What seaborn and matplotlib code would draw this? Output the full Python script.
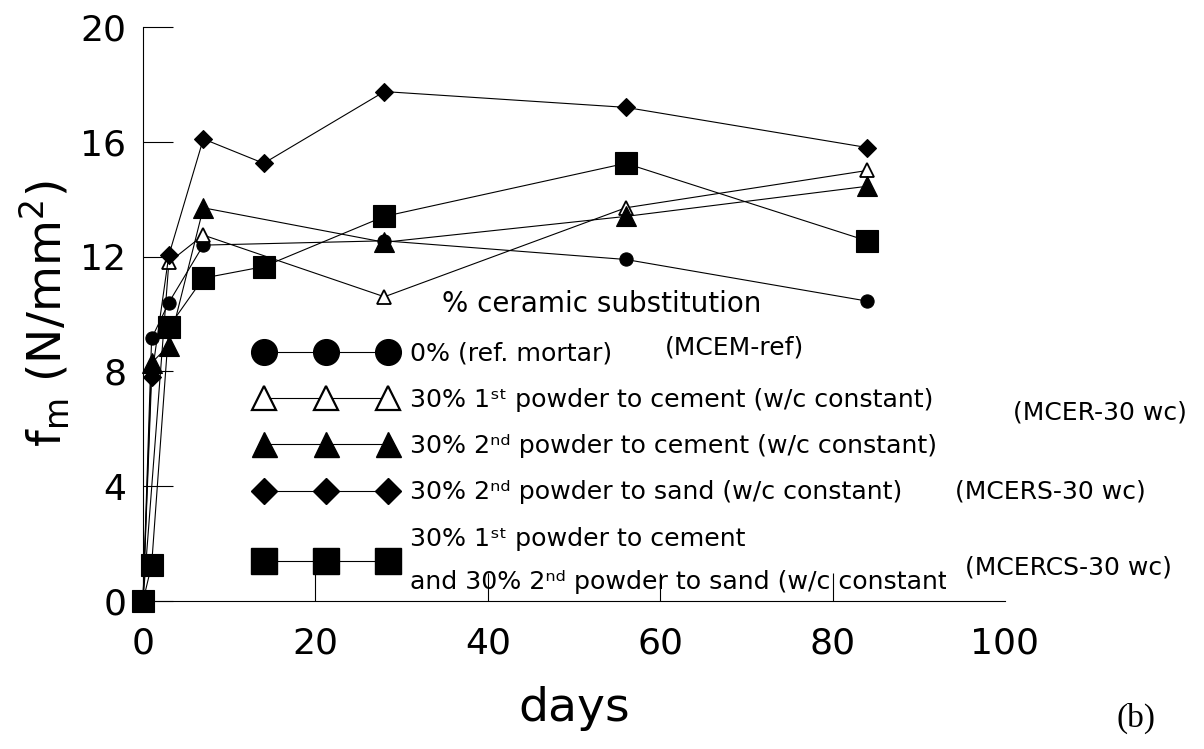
import matplotlib
matplotlib.use("Agg")
import matplotlib.pyplot as plt
import seaborn as sns
from matplotlib.lines import Line2D
from matplotlib.transforms import Bbox

# ---- data ----
days_ref = [0, 1, 3, 7, 28, 56, 84]
fm_ref = [0, 9.15, 10.4, 12.4, 12.55, 11.9, 10.45]

days_cer1 = [0, 3, 7, 28, 56, 84]
fm_cer1 = [0, 11.8, 12.75, 10.6, 13.7, 15.0]

days_cer2 = [0, 1, 3, 7, 28, 56, 84]
fm_cer2 = [0, 8.3, 8.9, 13.7, 12.5, 13.4, 14.45]

days_cers = [0, 1, 3, 7, 14, 28, 56, 84]
fm_cers = [0, 7.8, 12.05, 16.1, 15.25, 17.75, 17.2, 15.8]

days_cercs = [0, 1, 3, 7, 14, 28, 56, 84]
fm_cercs = [0, 1.25, 9.55, 11.25, 11.65, 13.4, 15.25, 12.55]

labels = [
    "0% (ref. mortar)",
    "30% 1\u02e2\u1d57 powder to cement (w/c constant)",
    "30% 2\u207f\u1d48 powder to cement (w/c constant)",
    "30% 2\u207f\u1d48 powder to sand (w/c constant)",
    "30% 1\u02e2\u1d57 powder to cement\nand 30% 2\u207f\u1d48 powder to sand (w/c constant",
]
codes = ["(MCEM-ref)", "(MCER-30 wc)", "(MCERS-30 wc)", "(MCERCS-30 wc)"]
xticks = [0, 20, 40, 60, 80, 100]
yticks = [0, 4, 8, 12, 16, 20]

sns.set_theme(style="ticks")
plt.rcParams["font.family"] = ["DejaVu Sans"]
plt.rcParams["mathtext.fontset"] = "dejavusans"
plt.rcParams["text.color"] = "black"
plt.rcParams["axes.labelcolor"] = "black"

W, H = 1204, 749
fig = plt.figure(figsize=(W / 100, H / 100), dpi=100)
ax = fig.add_axes([143 / W, 1 - 601 / H, (1005 - 143) / W, (601 - 27) / H])

series = [
    (days_ref, fm_ref, dict(marker="o", markersize=9.5, markerfacecolor="black")),
    (days_cer1, fm_cer1, dict(marker="^", markersize=9.5, markerfacecolor="white", markeredgewidth=1.3)),
    (days_cer2, fm_cer2, dict(marker="^", markersize=15, markerfacecolor="black")),
    (days_cers, fm_cers, dict(marker="D", markersize=9.5, markerfacecolor="black")),
    (days_cercs, fm_cercs, dict(marker="s", markersize=15.5, markerfacecolor="black")),
]
for x, y, kw in series:
    kw.setdefault("markeredgewidth", 0.8)
    sns.lineplot(x=x, y=y, ax=ax, color="black", linewidth=0.8,
                 markeredgecolor="black", clip_on=False, zorder=3, **kw)

ax.set_xlim(0, 100)
ax.set_ylim(0, 20)
ax.set_xticks(xticks)
ax.set_yticks(yticks)
ax.tick_params(axis="both", direction="in", width=0.8, labelsize=26, colors="black")
ax.tick_params(axis="y", length=21.5, pad=12)
ax.tick_params(axis="x", length=20, pad=18)
ax.xaxis.get_major_ticks()[-1].tick1line.set_visible(False)
for s in ["top", "right"]:
    ax.spines[s].set_visible(False)
for s in ["left", "bottom"]:
    ax.spines[s].set_linewidth(0.8)
    ax.spines[s].set_color("black")

ax.set_xlabel("days", fontsize=34, labelpad=19)
ax.set_ylabel("f$_{\\mathregular{m}}$ (N/mm$^{\\mathregular{2}}$)", fontsize=34, labelpad=6)

# ---- legend ----
handles = [
    Line2D([], [], color="black", lw=0.8, marker="o", ms=18.5, mfc="black", mec="black"),
    Line2D([], [], color="black", lw=0.8, marker="^", ms=17, mfc="white", mec="black", mew=1.6),
    Line2D([], [], color="black", lw=0.8, marker="^", ms=18, mfc="black", mec="black"),
    Line2D([], [], color="black", lw=0.8, marker="D", ms=13, mfc="black", mec="black"),
    Line2D([], [], color="black", lw=0.8, marker="s", ms=18.5, mfc="black", mec="black"),
]
FS = 18.2
FPX = FS * 100 / 72
leg = ax.legend(handles, labels, loc="upper left",
                bbox_to_anchor=(256 / W, 1 - 290 / H), bbox_transform=fig.transFigure,
                frameon=False, numpoints=3, handlelength=(124 + 0.6 * FPX) / FPX,
                handletextpad=0.57, labelspacing=0.88, borderpad=0, borderaxespad=0,
                fontsize=FS, title="% ceramic substitution", title_fontsize=20)
leg._legend_box.sep = 0.94 * FS
t_last = leg.get_texts()[4]
t_last.set_linespacing(2.0)
t_last.set_clip_box(Bbox([[0, 0], [946, H]]))
t_last.set_clip_on(True)

code_pos = [(665, 348), (1013, 413), (955, 492), (965, 567)]
for c, (px, py) in zip(codes, code_pos):
    fig.text(px / W, 1 - py / H, c, fontsize=18, ha="left", va="center")

fig.text(1117 / W, 1 - 718 / H, "(b)", fontsize=24, family="Liberation Serif",
         ha="left", va="center")

fig.savefig("out.png", dpi=100)
